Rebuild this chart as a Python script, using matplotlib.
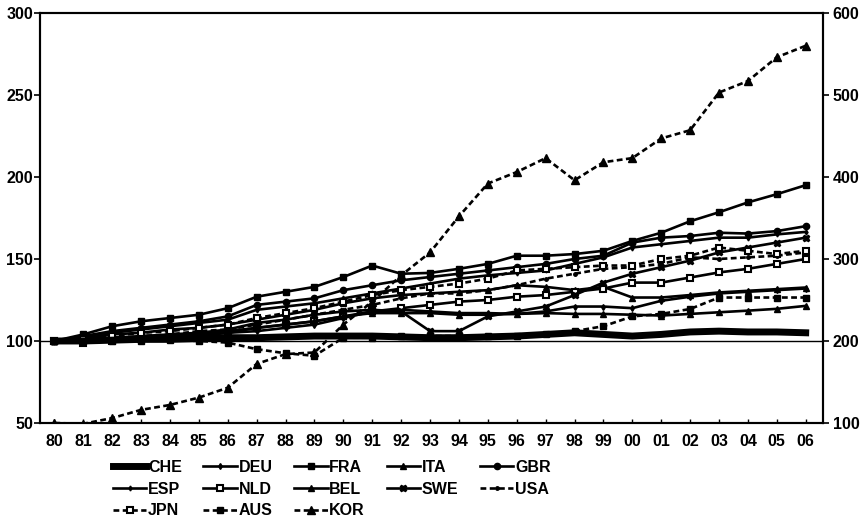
import matplotlib.pyplot as plt

plt.rcParams['font.family'] = ['Liberation Sans', 'DejaVu Sans']

years = list(range(1980, 2007))
year_labels = [f'{y % 100:02d}' for y in years]

# left axis series (1980 = 100)
che = [100, 100, 100.5, 101, 101, 101.5, 102, 102, 102.5, 103, 103, 103, 102.5, 102, 102, 102.5,
       103, 104, 105, 104, 103, 104, 105.5, 106, 105.5, 105.5, 105]
deu = [100, 101, 102, 102, 103, 104, 105, 106, 108, 110, 114, 118, 119, 118, 117, 117,
       116.5, 118, 121, 121, 120, 124.5, 127, 129, 130, 131, 132]
fra = [100, 104, 109, 112, 114, 116, 120, 127, 130, 133, 139, 146, 141, 141.5, 144, 147,
       152, 152, 153, 155, 161, 166, 173, 178.5, 184.5, 189.5, 195]
ita = [100, 102, 104, 105, 107, 108, 110, 113, 116, 119, 123, 126, 128, 129, 130, 131,
       134, 133, 131, 133, 126.5, 126.5, 128, 129.6, 130.6, 131.6, 132.6]
gbr = [100, 103, 106, 108, 110, 112, 115, 122, 124, 126, 131, 134, 137, 139, 141, 143,
       145, 147, 150, 152, 160, 163, 164, 166, 165.5, 167, 170]
esp = [100, 102, 105, 107, 109, 111, 113, 119, 121, 123, 126, 129, 132, 135, 138, 140,
       141.5, 143, 147, 151, 157, 159, 161, 163, 163, 165, 166.5]
nld = [100, 99, 100, 101, 102, 103, 105, 108, 110, 112, 115, 118, 120, 122, 124, 125,
       127, 128, 130, 132, 135.6, 135.6, 138.7, 141.8, 144, 147, 150]
bel = [100, 101, 101, 102, 103, 104, 106, 108, 110, 112, 115, 117, 117, 117, 116, 116,
       116.5, 117, 116.5, 116.5, 116, 115.5, 116.5, 117.5, 118.5, 119.6, 121.4]
swe = [100, 101, 102, 103, 104, 105, 107, 111, 113, 116, 118, 119, 118, 106, 106, 115,
       118, 121, 128, 135.6, 141, 145, 149, 154, 157, 160, 163]
usa = [100, 99, 101, 103, 104, 106, 107, 110, 113, 116, 119, 122, 126, 129, 129, 131,
       134, 138, 141, 144, 145, 147, 151, 150, 151, 152, 154]
jpn = [100, 101, 103, 105, 106, 108, 110, 114, 117, 120, 124, 128, 131, 133, 135, 138,
       143, 144, 145, 146, 146, 150, 152, 157, 155, 153, 155]
aus = [100, 100, 100, 100, 100.5, 100, 99, 95, 92.5, 91, 102, 102, 103, 103, 103, 103,
       103, 104, 106, 109, 115, 116.5, 119.5, 126.5, 126.5, 126.5, 126.5]
# right axis series
kor = [100, 99, 106, 116, 122, 131, 143, 172, 184, 186, 220, 248, 280, 308, 352, 392,
       406, 423, 396, 418, 423, 447, 457, 503, 517, 546, 560]

# legend reads row by row: CHE DEU FRA ITA GBR / ESP NLD BEL SWE USA / JPN AUS KOR
legend_order = ['CHE', 'ESP', 'JPN', 'DEU', 'NLD', 'AUS', 'FRA', 'BEL', 'KOR',
                'ITA', 'SWE', 'GBR', 'USA']

x = list(range(len(years)))
dash = (0, (2.2, 1.3))

fig = plt.figure(figsize=(8.6, 5.19), dpi=100)
ax = fig.add_axes([0.0465, 0.185, 0.9105, 0.79])
ax2 = ax.twinx()

lw = 1.9
ms = 4.5
ax.plot(x, che, color='black', lw=5, label='CHE', zorder=3)
ax.plot(x, deu, color='black', lw=lw, marker='d', ms=3, label='DEU')
ax.plot(x, fra, color='black', lw=lw, marker='s', ms=ms, label='FRA')
ax.plot(x, ita, color='black', lw=lw, marker='^', ms=ms, label='ITA')
ax.plot(x, gbr, color='black', lw=lw, marker='o', ms=ms, label='GBR')
ax.plot(x, esp, color='black', lw=lw, marker='d', ms=2.5, label='ESP')
ax.plot(x, nld, color='black', lw=lw, marker='s', ms=ms, mfc='white', mew=1.5, label='NLD')
ax.plot(x, bel, color='black', lw=lw, marker='^', ms=ms, label='BEL')
ax.plot(x, swe, color='black', lw=lw, marker='X', ms=ms, label='SWE')
ax.plot(x, usa, color='black', lw=lw, ls=dash, marker='o', ms=2.5, label='USA')
ax.plot(x, jpn, color='black', lw=lw, ls=dash, marker='s', ms=ms, mfc='white', mew=1.5, label='JPN')
ax.plot(x, aus, color='black', lw=lw, ls=dash, marker='s', ms=ms, label='AUS')
ax2.plot(x, kor, color='black', lw=lw, ls=dash, marker='^', ms=5.5, label='KOR')

ax.axhline(100, color='black', lw=1)

ax.set_xlim(-0.5, 26.6)
ax.set_ylim(50, 300)
ax2.set_ylim(100, 600)
ax.set_yticks([50, 100, 150, 200, 250, 300])
ax2.set_yticks([100, 200, 300, 400, 500, 600])
ax.set_xticks(x)
ax.set_xticklabels(year_labels)

for a in (ax, ax2):
    for s in a.spines.values():
        s.set_linewidth(1.5)
ax.tick_params(axis='x', direction='in', length=3, width=1, labelsize=11.5, pad=8)
ax.tick_params(axis='y', direction='out', length=4, width=1.2, labelsize=11.5, pad=1)
ax2.tick_params(axis='y', direction='out', length=4, width=1.2, labelsize=11.5, pad=3)
for lab in ax.get_xticklabels() + ax.get_yticklabels() + ax2.get_yticklabels():
    lab.set_fontweight('bold')

h1, l1 = ax.get_legend_handles_labels()
h2, l2 = ax2.get_legend_handles_labels()
lookup = dict(zip(l1 + l2, h1 + h2))
fig.legend([lookup[k] for k in legend_order], legend_order, loc='upper left',
           bbox_to_anchor=(0.122, 0.129), ncol=5, frameon=False, borderpad=0,
           handlelength=2.1, handletextpad=0.1, columnspacing=1.35, labelspacing=0.42,
           prop={'size': 11.5, 'weight': 'bold'})

fig.savefig('out.png', dpi=100)
